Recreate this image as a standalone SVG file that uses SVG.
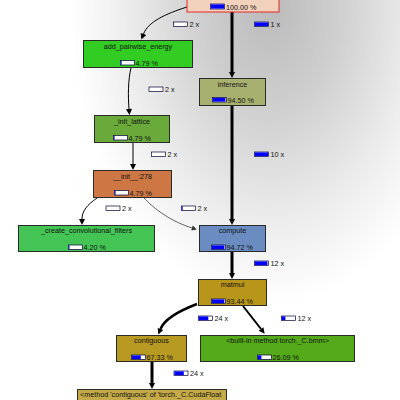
<svg xmlns="http://www.w3.org/2000/svg" width="400" height="400" viewBox="0 0 400 400">
<defs>
<radialGradient id="bg" gradientUnits="userSpaceOnUse" cx="0" cy="0" r="1" gradientTransform="translate(270,5) scale(200,300)">
<stop offset="0" stop-color="#bababa"/>
<stop offset="0.35" stop-color="#cfcfcf"/>
<stop offset="0.7" stop-color="#ebebeb"/>
<stop offset="1" stop-color="#ffffff"/>
</radialGradient>
<marker id="ah" markerUnits="userSpaceOnUse" markerWidth="7" markerHeight="7" refX="0" refY="3" orient="auto" overflow="visible">
<path d="M0,0 L6,3 L0,6 z" fill="#000"/>
</marker>
<marker id="ahg" markerUnits="userSpaceOnUse" markerWidth="7" markerHeight="7" refX="0" refY="2.5" orient="auto" overflow="visible">
<path d="M0,0 L5,2.5 L0,5 z" fill="#333"/>
</marker>
<clipPath id="clipm"><rect x="77" y="389" width="150" height="12"/></clipPath>
</defs>
<style>
text{font-family:"Liberation Sans",Arial,sans-serif;font-size:7.2px;fill:#111}
.nm{text-anchor:middle}
.box{stroke:#2a2a2a;stroke-width:1}
.bar{fill:#fff;stroke:#00003a;stroke-width:0.7}
.blue{fill:#0000ff}
.e{fill:none;stroke:#000}
</style>
<rect x="0" y="0" width="400" height="400" fill="url(#bg)"/>

<g id="edges">
<path class="e" stroke-width="1" d="M187,7 C165,14 148,22 143.5,34" marker-end="url(#ah)"/>
<path class="e" stroke-width="3" d="M232,12 L232,72" marker-end="url(#ah)"/>
<path class="e" stroke-width="1" d="M131,68 C128,80 128,96 129,109" marker-end="url(#ah)"/>
<path class="e" stroke-width="1" d="M133,143 L133,164" marker-end="url(#ah)"/>
<path class="e" stroke-width="1" d="M97,198 C87,205 82,211 82,219" marker-end="url(#ah)"/>
<path class="e" stroke="#444" stroke-width="0.6" d="M144,198 C158,213 176,223 192,228" marker-end="url(#ahg)"/>
<path class="e" stroke-width="3" d="M232,106 L232,219" marker-end="url(#ah)"/>
<path class="e" stroke-width="3" d="M232,252 L232,273" marker-end="url(#ah)"/>
<path class="e" stroke-width="2.5" d="M197,304 C176,312 164,320 160.5,329" marker-end="url(#ah)"/>
<path class="e" stroke-width="2" d="M243,306 L261,329" marker-end="url(#ah)"/>
<path class="e" stroke-width="3" d="M152,362 L152,383" marker-end="url(#ah)"/>
</g>

<g id="edge-labels">
<g><rect class="bar" x="173.5" y="22" width="14" height="4.5"/><text x="189.5" y="27">2 x</text></g>
<g><rect class="bar" x="254.5" y="22" width="14" height="4.5"/><rect class="blue" x="254.9" y="22.4" width="13.2" height="3.7"/><text x="270.5" y="27">1 x</text></g>
<g><rect class="bar" x="149" y="87" width="14" height="4.5"/><text x="165" y="92">2 x</text></g>
<g><rect class="bar" x="151.5" y="152" width="14" height="4.5"/><text x="167.5" y="157">2 x</text></g>
<g><rect class="bar" x="254.5" y="152" width="14" height="4.5"/><rect class="blue" x="254.9" y="152.4" width="13.2" height="3.7"/><text x="270.5" y="157">10 x</text></g>
<g><rect class="bar" x="106" y="206" width="14" height="4.5"/><text x="122" y="211">2 x</text></g>
<g><rect class="bar" x="181.5" y="206" width="14" height="4.5"/><rect class="blue" x="181.9" y="206.4" width="0.8" height="3.7"/><text x="197.5" y="211">2 x</text></g>
<g><rect class="bar" x="254.5" y="261" width="14" height="4.5"/><rect class="blue" x="254.9" y="261.4" width="12.5" height="3.7"/><text x="270.5" y="266">12 x</text></g>
<g><rect class="bar" x="198.5" y="316" width="14" height="4.5"/><rect class="blue" x="198.9" y="316.4" width="9.4" height="3.7"/><text x="214.5" y="321">24 x</text></g>
<g><rect class="bar" x="281.5" y="316" width="14" height="4.5"/><rect class="blue" x="281.9" y="316.4" width="3.5" height="3.7"/><text x="297.5" y="321">12 x</text></g>
<g><rect class="bar" x="174" y="371" width="14" height="4.5"/><rect class="blue" x="174.4" y="371.4" width="9.4" height="3.7"/><text x="190" y="376">24 x</text></g>
</g>

<g id="node-root">
<rect x="187" y="-16" width="92" height="28" fill="#f2d2bc" stroke="#e02828" stroke-width="1"/>
<rect class="bar" x="210.5" y="4" width="14" height="5"/><rect class="blue" x="210.9" y="4.4" width="13.2" height="4.2"/>
<text x="226" y="9.5">100.00 %</text>
</g>

<g id="node-add_pairwise_energy">
<rect class="box" x="83.5" y="40.5" width="109" height="27" fill="#33cc22"/>
<text class="nm" x="138" y="48.5">add_pairwise_energy</text>
<rect class="bar" x="120.5" y="60.5" width="14" height="4.5"/><rect class="blue" x="120.9" y="60.9" width="0.7" height="3.7"/>
<text x="135.5" y="65.5">4.79 %</text>
</g>

<g id="node-inference">
<rect class="box" x="199.5" y="78.5" width="66" height="27" fill="#a8b070"/>
<text class="nm" x="232.5" y="86.5">inference</text>
<rect class="bar" x="212.5" y="97.5" width="14" height="4.5"/><rect class="blue" x="212.9" y="97.9" width="12.5" height="3.7"/>
<text x="227.5" y="102.5">94.50 %</text>
</g>

<g id="node-_init_lattice">
<rect class="box" x="94.5" y="115.5" width="75" height="27" fill="#6aaa3a"/>
<text class="nm" x="132" y="123.5">_init_lattice</text>
<rect class="bar" x="113.5" y="135.5" width="14" height="4.5"/><rect class="blue" x="113.9" y="135.9" width="0.7" height="3.7"/>
<text x="128.5" y="140.5">4.79 %</text>
</g>

<g id="node-__init__278">
<rect class="box" x="93.5" y="170.5" width="78" height="27" fill="#cc7744"/>
<text class="nm" x="132.5" y="178.5">__init__:278</text>
<rect class="bar" x="114.5" y="190.5" width="14" height="4.5"/><rect class="blue" x="114.9" y="190.9" width="0.7" height="3.7"/>
<text x="129.5" y="195.5">4.79 %</text>
</g>

<g id="node-_create_convolutional_filters">
<rect class="box" x="18.5" y="225.5" width="136" height="26" fill="#44c455"/>
<text class="nm" x="86.5" y="233">_create_convolutional_filters</text>
<rect class="bar" x="68.5" y="245" width="14" height="4.5"/><rect class="blue" x="68.9" y="245.4" width="0.6" height="3.7"/>
<text x="83.5" y="250">4.20 %</text>
</g>

<g id="node-compute">
<rect class="box" x="199.5" y="225.5" width="66" height="26" fill="#6a8cc0"/>
<text class="nm" x="232.5" y="233">compute</text>
<rect class="bar" x="211.5" y="245" width="14" height="4.5"/><rect class="blue" x="211.9" y="245.4" width="12.5" height="3.7"/>
<text x="226.5" y="250">94.72 %</text>
</g>

<g id="node-matmul">
<rect class="box" x="198.5" y="279.5" width="68" height="26" fill="#b8961a"/>
<text class="nm" x="232.5" y="287">matmul</text>
<rect class="bar" x="211.5" y="299" width="14" height="4.5"/><rect class="blue" x="211.9" y="299.4" width="12.4" height="3.7"/>
<text x="226.5" y="304">93.44 %</text>
</g>

<g id="node-contiguous">
<rect class="box" x="116.5" y="335.5" width="70" height="26" fill="#b89a22"/>
<text class="nm" x="151.5" y="343">contiguous</text>
<rect class="bar" x="131.5" y="355" width="14" height="4.5"/><rect class="blue" x="131.9" y="355.4" width="8.9" height="3.7"/>
<text x="146.5" y="360">67.33 %</text>
</g>

<g id="node-bmm">
<rect class="box" x="200.5" y="335.5" width="154" height="26" fill="#55aa1a"/>
<text class="nm" x="277.5" y="343">&lt;built-in method torch._C.bmm&gt;</text>
<rect class="bar" x="257.5" y="355" width="14" height="4.5"/><rect class="blue" x="257.9" y="355.4" width="3.5" height="3.7"/>
<text x="272.5" y="360">26.09 %</text>
</g>

<g id="node-method-contiguous">
<rect class="box" x="77.5" y="389.5" width="149" height="14" fill="#c4aa48"/>
<text x="80" y="396.5" clip-path="url(#clipm)">&lt;method 'contiguous' of 'torch._C.CudaFloat</text>
</g>
</svg>
